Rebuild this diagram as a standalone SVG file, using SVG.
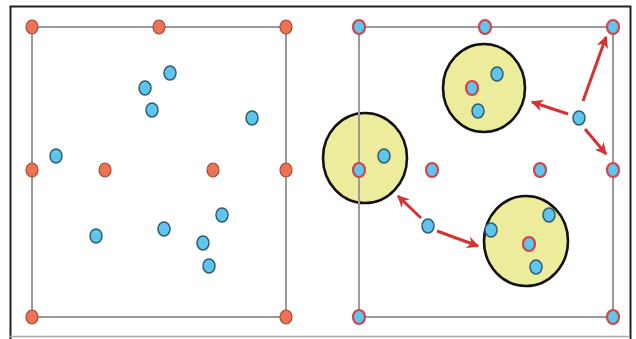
<svg xmlns="http://www.w3.org/2000/svg" width="636" height="339" viewBox="0 0 636 339">
<defs>
<style>
.frame{fill:none;stroke:#9a9a9a;stroke-width:2}
.v{fill:#ec7356;stroke:#a24a35;stroke-width:1.2}
.b{fill:#5ec6ec;stroke:#2f5d70;stroke-width:1.5}
.rb{fill:#5ec6ec;stroke:#d2434a;stroke-width:2.2}
.cl{fill:#ecec9c;stroke:#111;stroke-width:2.6}
.arr{stroke:#d63232;stroke-width:3;fill:none;marker-end:url(#ah)}
</style>
<marker id="ah" viewBox="0 0 10 10" refX="9" refY="5" markerWidth="4" markerHeight="4" orient="auto" markerUnits="strokeWidth">
<path d="M0,0 L10,5 L0,10 L3,5 Z" fill="#d63232"/>
</marker>
</defs>
<rect x="0" y="0" width="636" height="339" fill="#fff"/>
<path d="M10.5,339 V6.5 H630.5 V339" fill="none" stroke="#222" stroke-width="2"/>
<line x1="10" y1="336.5" x2="630" y2="336.5" stroke="#aaa" stroke-width="1.5"/>

<g id="left-panel">
<rect class="frame" x="32" y="27" width="254" height="290"/>
<g id="left-grid">
<ellipse class="v" cx="32" cy="27" rx="6" ry="7"/>
<ellipse class="v" cx="159" cy="27" rx="6" ry="7"/>
<ellipse class="v" cx="286" cy="27" rx="6" ry="7"/>
<ellipse class="v" cx="32" cy="170" rx="6" ry="7"/>
<ellipse class="v" cx="105" cy="170" rx="6" ry="7"/>
<ellipse class="v" cx="213" cy="170" rx="6" ry="7"/>
<ellipse class="v" cx="286" cy="170" rx="6" ry="7"/>
<ellipse class="v" cx="32" cy="317" rx="6" ry="7"/>
<ellipse class="v" cx="286" cy="317" rx="6" ry="7"/>
</g>
<g id="left-points">
<ellipse class="b" cx="170" cy="73" rx="6" ry="7"/>
<ellipse class="b" cx="145" cy="88" rx="6" ry="7"/>
<ellipse class="b" cx="152" cy="110" rx="6" ry="7"/>
<ellipse class="b" cx="252" cy="118" rx="6" ry="7"/>
<ellipse class="b" cx="56" cy="156" rx="6" ry="7"/>
<ellipse class="b" cx="96" cy="236" rx="6" ry="7"/>
<ellipse class="b" cx="164" cy="229" rx="6" ry="7"/>
<ellipse class="b" cx="222" cy="215" rx="6" ry="7"/>
<ellipse class="b" cx="203" cy="243" rx="6" ry="7"/>
<ellipse class="b" cx="209" cy="266" rx="6" ry="7"/>
</g>
</g>

<g id="right-panel">
<g id="cluster-1">
<ellipse class="cl" cx="484" cy="88" rx="41" ry="44"/>
<ellipse class="rb" cx="472" cy="88" rx="6" ry="7"/>
<ellipse class="b" cx="497" cy="74" rx="6" ry="7"/>
<ellipse class="b" cx="478" cy="111" rx="6" ry="7"/>
</g>
<g id="cluster-2">
<ellipse class="cl" cx="365" cy="158" rx="42" ry="45"/>
<ellipse class="b" cx="384" cy="156" rx="6" ry="7"/>
</g>
<g id="cluster-3">
<ellipse class="cl" cx="526" cy="241" rx="42" ry="45"/>
<ellipse class="b" cx="549" cy="215" rx="6" ry="7"/>
<ellipse class="rb" cx="529" cy="244" rx="6" ry="7"/>
<ellipse class="b" cx="536" cy="267" rx="6" ry="7"/>
<ellipse class="b" cx="491" cy="230" rx="6" ry="7"/>
</g>
<rect class="frame" x="359" y="27" width="254" height="290"/>
<g id="right-grid">
<ellipse class="rb" cx="359" cy="27" rx="6" ry="7"/>
<ellipse class="rb" cx="485" cy="27" rx="6" ry="7"/>
<ellipse class="rb" cx="613" cy="27" rx="6" ry="7"/>
<ellipse class="rb" cx="359" cy="170" rx="6" ry="7"/>
<ellipse class="rb" cx="432" cy="170" rx="6" ry="7"/>
<ellipse class="rb" cx="540" cy="170" rx="6" ry="7"/>
<ellipse class="rb" cx="613" cy="170" rx="6" ry="7"/>
<ellipse class="rb" cx="359" cy="317" rx="6" ry="7"/>
<ellipse class="rb" cx="613" cy="317" rx="6" ry="7"/>
</g>
<g id="connectors">
<line class="arr" x1="583" y1="101" x2="606" y2="37"/>
<line class="arr" x1="568" y1="114" x2="532" y2="102"/>
<line class="arr" x1="585" y1="129" x2="606" y2="154"/>
<line class="arr" x1="421" y1="218" x2="398" y2="196"/>
<line class="arr" x1="437" y1="231" x2="478" y2="246"/>
</g>
<g id="moving-points">
<ellipse class="b" cx="579" cy="118" rx="6" ry="7"/>
<ellipse class="b" cx="428" cy="226" rx="6" ry="7"/>
</g>
</g>
</svg>
